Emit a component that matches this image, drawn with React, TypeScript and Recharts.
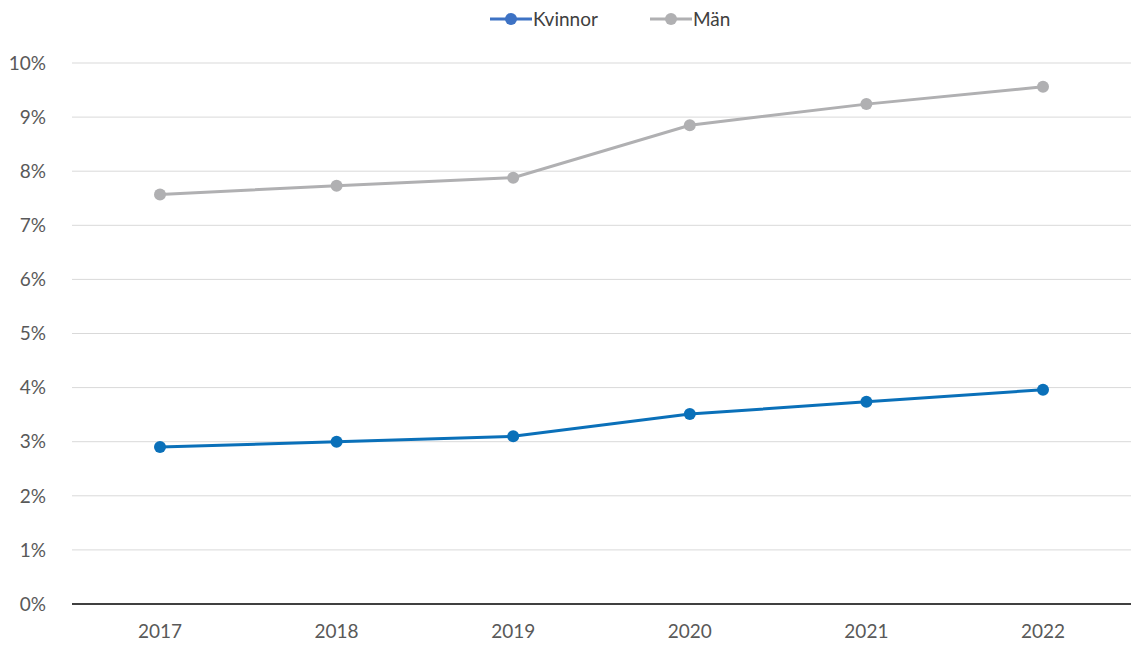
import { CartesianGrid, Line, LineChart, XAxis, YAxis } from "recharts";

const years = ["2017", "2018", "2019", "2020", "2021", "2022"];
const kvinnor = [2.9, 3.0, 3.1, 3.51, 3.74, 3.96];
const man = [7.57, 7.73, 7.88, 8.85, 9.24, 9.56];
const yTicks = [0, 1, 2, 3, 4, 5, 6, 7, 8, 9, 10];

const BLUE = "#0a70b9";
const GREY = "#b0b0b2";
const FONT = "Lato, 'Open Sans', sans-serif";

const data = years.map((year, i) => ({ year, kvinnor: kvinnor[i], man: man[i] }));

const LEGEND_ITEMS = [
  { label: "Kvinnor", color: "#3d72c4" },
  { label: "Män", color: GREY },
];

function ChartLegend() {
  return (
    <div
      style={{
        position: "absolute",
        top: 7,
        left: 490,
        display: "flex",
        fontFamily: FONT,
        fontSize: 19,
        color: "#404040",
      }}
    >
      {LEGEND_ITEMS.map((item) => (
        <div key={item.label} style={{ display: "flex", alignItems: "center", marginRight: 52 }}>
          <svg width={42} height={16} style={{ marginRight: 1 }}>
            <line x1={0} y1={8} x2={42} y2={8} stroke={item.color} strokeWidth={3} />
            <circle cx={21} cy={8} r={6} fill={item.color} />
          </svg>
          <span>{item.label}</span>
        </div>
      ))}
    </div>
  );
}

export default function App() {
  return (
    <div style={{ position: "fixed", top: 0, left: 0, width: 1132, height: 645, background: "#fff" }}>
      <ChartLegend />
      <LineChart width={1132} height={645} data={data} margin={{ top: 63, right: 1, bottom: 0, left: 0 }}>
        <CartesianGrid vertical={false} stroke="#d9d9d9" />
        <XAxis
          dataKey="year"
          height={41}
          padding={{ left: 88, right: 88 }}
          tickLine={false}
          tickSize={0}
          tickMargin={21}
          axisLine={{ stroke: "#404040", strokeWidth: 2 }}
          tick={{ fill: "#595959", fontSize: 19, fontFamily: FONT }}
        />
        <YAxis
          width={72}
          domain={[0, 10]}
          ticks={yTicks}
          interval={0}
          tickFormatter={(v: number) => `${v}%`}
          axisLine={false}
          tickLine={false}
          tickSize={0}
          tickMargin={26}
          tick={{ fill: "#595959", fontSize: 19, fontFamily: FONT }}
        />
        <Line
          dataKey="kvinnor"
          name="Kvinnor"
          stroke={BLUE}
          strokeWidth={3}
          dot={{ r: 6, fill: BLUE, stroke: BLUE, strokeWidth: 0 }}
          isAnimationActive={false}
        />
        <Line
          dataKey="man"
          name="Män"
          stroke={GREY}
          strokeWidth={3}
          dot={{ r: 6, fill: GREY, stroke: GREY, strokeWidth: 0 }}
          isAnimationActive={false}
        />
      </LineChart>
    </div>
  );
}
